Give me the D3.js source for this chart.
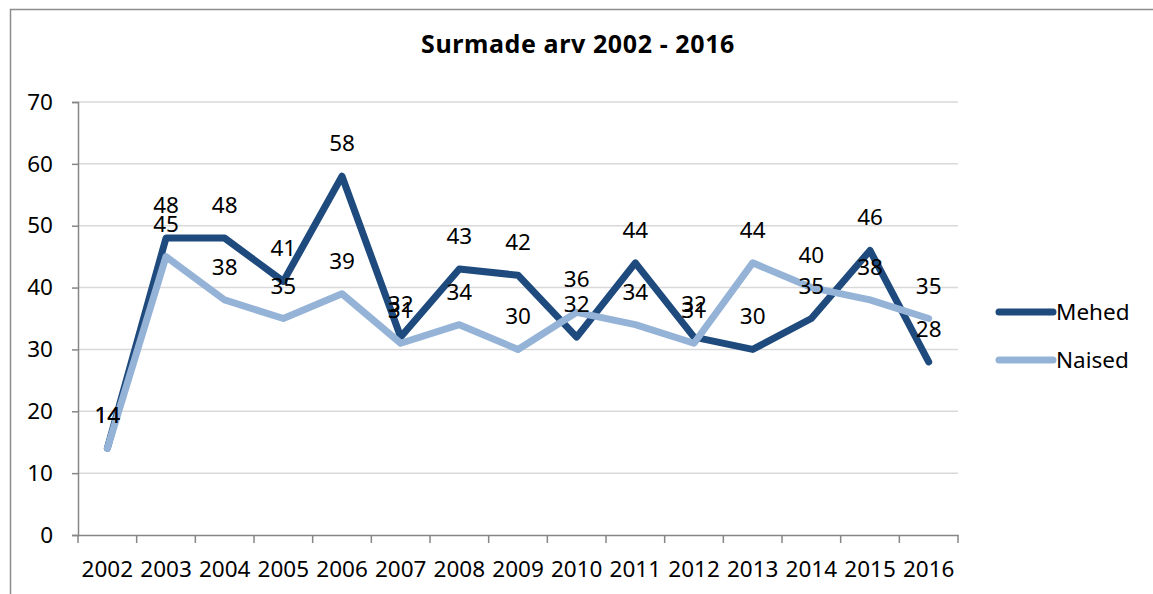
<!DOCTYPE html>
<html>
<head>
<meta charset="utf-8">
<script src="https://cdn.jsdelivr.net/npm/d3@7"></script>
<style>
  html, body { margin: 0; padding: 0; background: #fff; }
  svg { display: block; font-family: "Noto Sans", "Open Sans", sans-serif; }
</style>
</head>
<body>
<svg id="chart" width="1153" height="594"></svg>
<script>
// chart data
const years = ["2002", "2003", "2004", "2005", "2006", "2007", "2008", "2009",
               "2010", "2011", "2012", "2013", "2014", "2015", "2016"];
const mehed = [14, 48, 48, 41, 58, 32, 43, 42, 32, 44, 32, 30, 35, 46, 28];
const naised = [14, 45, 38, 35, 39, 31, 34, 30, 36, 34, 31, 44, 40, 38, 35];
const yTicks = [0, 10, 20, 30, 40, 50, 60, 70];
const seriesNames = ["Mehed", "Naised"];
const seriesColors = ["#1f4a7e", "#95b3d7"];

const svg = d3.select("#chart");
const margin = { top: 102, left: 78 };
const plotW = 958 - margin.left;
const plotH = 535 - margin.top;
const fs = "22.5px";

// outer chart border
svg.append("rect")
    .attr("x", 10.5).attr("y", 9.5)
    .attr("width", 1160).attr("height", 600)
    .attr("fill", "none")
    .attr("stroke", "#8c8c8c")
    .attr("stroke-width", 1.5);

svg.append("text")
    .attr("x", 578).attr("y", 53)
    .attr("text-anchor", "middle")
    .attr("font-weight", "bold")
    .attr("font-size", "25px")
    .attr("letter-spacing", "0.6px")
    .attr("fill", "#000")
    .text("Surmade arv 2002 - 2016");

const g = svg.append("g")
    .attr("transform", `translate(${margin.left},${margin.top})`);

const x = d3.scaleBand().domain(years).range([0, plotW]);
const y = d3.scaleLinear().domain([0, 70]).range([plotH, 0]);

// gridlines
g.append("g")
    .selectAll("line")
    .data(yTicks.filter(d => d > 0))
    .join("line")
    .attr("x1", 0).attr("x2", plotW)
    .attr("y1", d => y(d)).attr("y2", d => y(d))
    .attr("stroke", "#d9d9d9")
    .attr("stroke-width", 1.5);

// y axis
const yAxis = g.append("g")
    .call(d3.axisLeft(y).tickValues(yTicks).tickSize(6).tickPadding(19));
yAxis.select(".domain").attr("stroke", "#868686").attr("stroke-width", 1.5);
yAxis.selectAll(".tick line").attr("stroke", "#868686").attr("stroke-width", 1.5);
yAxis.selectAll("text").attr("font-size", fs).attr("fill", "#000")
    .attr("font-family", "Noto Sans, sans-serif");

// x axis with ticks on band edges
const xAxis = g.append("g")
    .attr("transform", `translate(0,${plotH})`)
    .call(d3.axisBottom(x).tickSize(0).tickPadding(26));
xAxis.select(".domain").attr("stroke", "#868686").attr("stroke-width", 1.5);
xAxis.selectAll("text").attr("font-size", fs).attr("fill", "#000")
    .attr("font-family", "Noto Sans, sans-serif");
xAxis.selectAll(".edge")
    .data(d3.range(years.length + 1))
    .join("line")
    .attr("class", "edge")
    .attr("x1", i => i * x.step()).attr("x2", i => i * x.step())
    .attr("y1", 0).attr("y2", 8)
    .attr("stroke", "#868686")
    .attr("stroke-width", 1.5);

const cx = d => x(d) + x.bandwidth() / 2;
const line = d3.line()
    .x((v, i) => cx(years[i]))
    .y(v => y(v));

const series = [mehed, naised];

// lines, Mehed first so Naised sits on top
[0, 1].forEach(s => {
    g.append("path")
        .datum(series[s])
        .attr("d", line)
        .attr("fill", "none")
        .attr("stroke", seriesColors[s])
        .attr("stroke-width", 7)
        .attr("stroke-linecap", "round")
        .attr("stroke-linejoin", "round");
});

// data labels above each point
[0, 1].forEach(s => {
    g.append("g")
        .selectAll("text")
        .data(series[s])
        .join("text")
        .attr("x", (v, i) => cx(years[i]))
        .attr("y", v => y(v) - 25)
        .attr("text-anchor", "middle")
        .attr("font-size", fs)
        .attr("fill", "#000")
        .text(v => v);
});

// legend
const legend = svg.append("g");
seriesNames.forEach((name, i) => {
    const ly = 312 + i * 48;
    legend.append("line")
        .attr("x1", 999).attr("x2", 1053)
        .attr("y1", ly).attr("y2", ly)
        .attr("stroke", seriesColors[i])
        .attr("stroke-width", 7)
        .attr("stroke-linecap", "round");
    legend.append("text")
        .attr("x", 1056).attr("y", ly + 8)
        .attr("font-size", fs)
        .attr("fill", "#000")
        .text(name);
});
</script>
</body>
</html>
